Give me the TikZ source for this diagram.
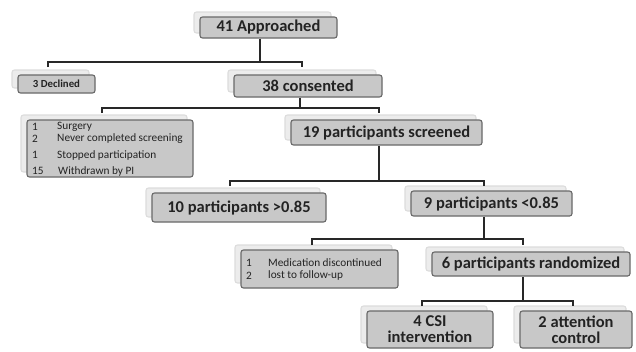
\documentclass[tikz,border=0pt]{standalone}
\usepackage{fontspec}
\setmainfont{Carlito}
\usetikzlibrary{shadows}
\definecolor{boxfill}{RGB}{200,200,200}
\definecolor{boxline}{RGB}{105,105,105}
\definecolor{glow}{RGB}{236,236,236}
\definecolor{conn}{RGB}{40,40,40}
\definecolor{txt}{RGB}{35,35,35}
\tikzset{
  box/.style={draw=boxline, line width=1.1pt, fill=boxfill, rounded corners=2.5pt,
    inner sep=0pt, text=txt, align=center,
    general shadow={fill=glow, draw=glow!85!gray, shadow xshift=-6pt, shadow yshift=5pt}},
  bigtxt/.style={font=\fontsize{16.5}{16}\selectfont\bfseries},
  smalltxt/.style={font=\fontsize{11.3}{12}\selectfont, text=txt, inner sep=0pt, anchor=west},
  conn/.style={draw=conn, line width=1.7pt},
}
\begin{document}
\begin{tikzpicture}[x=1pt,y=-1pt]
\useasboundingbox (0,0) rectangle (636,351);
% boxes
\node[box,bigtxt,minimum width=137pt,minimum height=21pt] (app) at (268.5,27.5) {41 Approached};
\node[box,font=\fontsize{10.8}{12}\selectfont\bfseries,minimum width=77pt,minimum height=18pt] (dec) at (56.5,84) {3 Declined};
\node[box,bigtxt,minimum width=148pt,minimum height=22pt] (con) at (308,86) {38 consented};
\node[box,minimum width=166pt,minimum height=57pt] (lst) at (110,148.5) {};
\node[box,bigtxt,minimum width=191pt,minimum height=25pt] (scr) at (386.5,132.5) {19 participants screened};
\node[box,bigtxt,minimum width=174pt,minimum height=29pt] (gt) at (239,207.5) {10 participants >0.85};
\node[box,bigtxt,minimum width=161pt,minimum height=25pt] (lt) at (491.5,203.5) {9 participants <0.85};
\node[box,minimum width=157pt,minimum height=38pt] (med) at (319.5,269) {};
\node[box,bigtxt,minimum width=198pt,minimum height=24pt] (rnd) at (531,264) {6 participants randomized};
\node[box,bigtxt,minimum width=126pt,minimum height=37pt] (csi) at (430,329.5) {4 CSI\\intervention};
\node[box,bigtxt,minimum width=112pt,minimum height=37pt] (att) at (576,329.5) {2 attention\\control};
% list texts
\node[smalltxt] (l1n) at (32,127) {1};
\node[smalltxt] (l1t) at (57,127) {Surgery};
\node[smalltxt] (l2n) at (32,138.5) {2};
\node[smalltxt] (l2t) at (57,138.5) {Never completed screening};
\node[smalltxt] (l3n) at (32,155) {1};
\node[smalltxt] (l3t) at (57,155) {Stopped participation};
\node[smalltxt] (l4n) at (32,171) {15};
\node[smalltxt] (l4t) at (58,171) {Withdrawn by PI};
\node[smalltxt] (m1n) at (246,263) {1};
\node[smalltxt] (m1t) at (268,263) {Medication discontinued};
\node[smalltxt] (m2n) at (246,275.5) {2};
\node[smalltxt] (m2t) at (268,275.5) {lost to follow-up};
% connector coordinates
\coordinate (j1) at (260,62);  \coordinate (a1) at (48,67);  \coordinate (b1) at (302,67);
\coordinate (j2) at (300,108); \coordinate (a2) at (102,113); \coordinate (b2) at (379,113);
\coordinate (j3) at (379,181); \coordinate (a3) at (230,186); \coordinate (b3) at (484,186);
\coordinate (j4) at (484,239); \coordinate (a4) at (312,245); \coordinate (b4) at (523,245);
\coordinate (j5) at (523,301); \coordinate (a5) at (422,306); \coordinate (b5) at (573,306);
% connectors
\draw[conn] (app.south -| j1) -- (j1);
\draw[conn] (a1) -- (a1 |- j1) -- (b1 |- j1) -- (b1);
\draw[conn] (con.south -| j2) -- (j2);
\draw[conn] (a2) -- (a2 |- j2) -- (b2 |- j2) -- (b2);
\draw[conn] (scr.south -| j3) -- (j3);
\draw[conn] (a3) -- (a3 |- j3) -- (b3 |- j3) -- (b3);
\draw[conn] (lt.south -| j4) -- (j4);
\draw[conn] (a4) -- (a4 |- j4) -- (b4 |- j4) -- (b4);
\draw[conn] (rnd.south -| j5) -- (j5);
\draw[conn] (a5) -- (a5 |- j5) -- (b5 |- j5) -- (b5);
\end{tikzpicture}
\end{document}
